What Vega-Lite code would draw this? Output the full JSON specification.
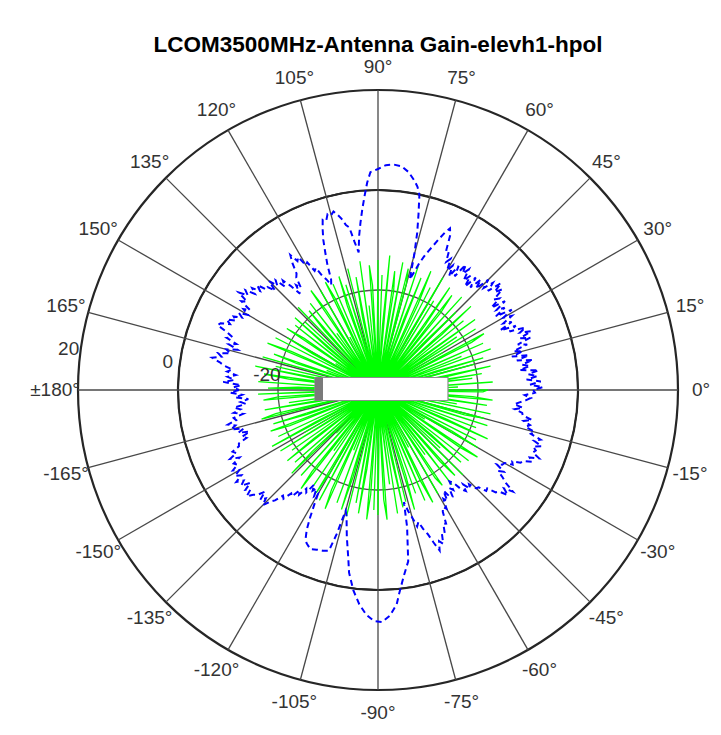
{
  "$schema": "https://vega.github.io/schema/vega-lite/v6.json",
  "width": 600,
  "height": 600,
  "autosize": {"type": "none"},
  "padding": {"left": 78, "top": 90, "right": 43, "bottom": 45},
  "background": "white",
  "config": {"view": {"stroke": null}},
  "title": {"text": "LCOM3500MHz-Antenna Gain-elevh1-hpol", "font": "Liberation Sans", "fontSize": 22.5, "fontWeight": "bold", "color": "#000000", "anchor": "middle", "frame": "group", "offset": 2},
  "datasets": {
    "rings": [{"v": -20}, {"v": 0}],
    "outer": [{"v": 20}],
    "spokes": [{"a":0},{"a":15},{"a":30},{"a":45},{"a":60},{"a":75},{"a":90},{"a":105},{"a":120},{"a":135},{"a":150},{"a":165},{"a":180},{"a":195},{"a":210},{"a":225},{"a":240},{"a":255},{"a":270},{"a":285},{"a":300},{"a":315},{"a":330},{"a":345}],
    "angleLabels": [{"a":0,"t":"0°"},{"a":15,"t":"15°"},{"a":30,"t":"30°"},{"a":45,"t":"45°"},{"a":60,"t":"60°"},{"a":75,"t":"75°"},{"a":90,"t":"90°"},{"a":105,"t":"105°"},{"a":120,"t":"120°"},{"a":135,"t":"135°"},{"a":150,"t":"150°"},{"a":165,"t":"165°"},{"a":180,"t":"±180°"},{"a":-165,"t":"-165°"},{"a":-150,"t":"-150°"},{"a":-135,"t":"-135°"},{"a":-120,"t":"-120°"},{"a":-105,"t":"-105°"},{"a":-90,"t":"-90°"},{"a":-75,"t":"-75°"},{"a":-60,"t":"-60°"},{"a":-45,"t":"-45°"},{"a":-30,"t":"-30°"},{"a":-15,"t":"-15°"}],
    "radialLabels": [{"v":20,"t":"20"},{"v":0,"t":"0"},{"v":-20,"t":"-20"}],
    "box": [{"x1": -12.6, "x2": 14.0, "y1": -2.1, "y2": 2.5}],
    "boxEdge": [{"x1": -12.6, "x2": -11.0, "y1": -2.1, "y2": 2.5}],
    "green": [
      {"a":0,"g":-18},{"a":1,"g":-40},{"a":2,"g":-24},{"a":3,"g":-36},{"a":4,"g":-17},{"a":5,"g":-40},{"a":6,"g":-40},{"a":7,"g":-21},{"a":8,"g":-30},{"a":9,"g":-19},
      {"a":10,"g":-40},{"a":11,"g":-26},{"a":12,"g":-17},{"a":13,"g":-40},{"a":14,"g":-33},{"a":15,"g":-20},{"a":16,"g":-40},{"a":17,"g":-18},{"a":18,"g":-28},{"a":19,"g":-40},
      {"a":20,"g":-16},{"a":21,"g":-38},{"a":22,"g":-22},{"a":23,"g":-40},{"a":24,"g":-17},{"a":25,"g":-31},{"a":26,"g":-40},{"a":27,"g":-19},{"a":28,"g":-16},{"a":29,"g":-40},
      {"a":30,"g":-25},{"a":31,"g":-40},{"a":32,"g":-17},{"a":33,"g":-35},{"a":34,"g":-21},{"a":35,"g":-40},{"a":36,"g":-16},{"a":37,"g":-29},{"a":38,"g":-40},{"a":39,"g":-18},
      {"a":40,"g":-40},{"a":41,"g":-23},{"a":42,"g":-15},{"a":43,"g":-40},{"a":44,"g":-37},{"a":45,"g":-18},{"a":46,"g":-27},{"a":47,"g":-40},{"a":48,"g":-15},{"a":49,"g":-32},
      {"a":50,"g":-40},{"a":51,"g":-20},{"a":52,"g":-16},{"a":53,"g":-40},{"a":54,"g":-24},{"a":55,"g":-15},{"a":56,"g":-40},{"a":57,"g":-34},{"a":58,"g":-19},{"a":59,"g":-40},
      {"a":60,"g":-14},{"a":61,"g":-28},{"a":62,"g":-40},{"a":63,"g":-17},{"a":64,"g":-40},{"a":65,"g":-21},{"a":66,"g":-14},{"a":67,"g":-36},{"a":68,"g":-40},{"a":69,"g":-16},
      {"a":70,"g":-25},{"a":71,"g":-40},{"a":72,"g":-14},{"a":73,"g":-33},{"a":74,"g":-40},{"a":75,"g":-18},{"a":76,"g":-15},{"a":77,"g":-40},{"a":78,"g":-29},{"a":79,"g":-14},
      {"a":80,"g":-40},{"a":81,"g":-20},{"a":82,"g":-16},{"a":83,"g":-40},{"a":84,"g":-38},{"a":85,"g":-13},{"a":86,"g":-27},{"a":87,"g":-40},{"a":88,"g":-17},{"a":89,"g":-40},
      {"a":90,"g":-14},{"a":91,"g":-31},{"a":92,"g":-40},{"a":93,"g":-19},{"a":94,"g":-15},{"a":95,"g":-40},{"a":96,"g":-23},{"a":97,"g":-40},{"a":98,"g":-14},{"a":99,"g":-35},
      {"a":100,"g":-40},{"a":101,"g":-17},{"a":102,"g":-25},{"a":103,"g":-40},{"a":104,"g":-15},{"a":105,"g":-40},{"a":106,"g":-30},{"a":107,"g":-18},{"a":108,"g":-40},{"a":109,"g":-16},
      {"a":110,"g":-22},{"a":111,"g":-40},{"a":112,"g":-37},{"a":113,"g":-17},{"a":114,"g":-40},{"a":115,"g":-20},{"a":116,"g":-16},{"a":117,"g":-40},{"a":118,"g":-28},{"a":119,"g":-40},
      {"a":120,"g":-17},{"a":121,"g":-34},{"a":122,"g":-40},{"a":123,"g":-21},{"a":124,"g":-16},{"a":125,"g":-40},{"a":126,"g":-26},{"a":127,"g":-40},{"a":128,"g":-18},{"a":129,"g":-32},
      {"a":130,"g":-40},{"a":131,"g":-19},{"a":132,"g":-24},{"a":133,"g":-40},{"a":134,"g":-17},{"a":135,"g":-40},{"a":136,"g":-36},{"a":137,"g":-20},{"a":138,"g":-40},{"a":139,"g":-18},
      {"a":140,"g":-27},{"a":141,"g":-40},{"a":142,"g":-19},{"a":143,"g":-33},{"a":144,"g":-40},{"a":145,"g":-22},{"a":146,"g":-18},{"a":147,"g":-40},{"a":148,"g":-30},{"a":149,"g":-40},
      {"a":150,"g":-19},{"a":151,"g":-25},{"a":152,"g":-40},{"a":153,"g":-17},{"a":154,"g":-38},{"a":155,"g":-40},{"a":156,"g":-21},{"a":157,"g":-16},{"a":158,"g":-40},{"a":159,"g":-29},
      {"a":160,"g":-40},{"a":161,"g":-18},{"a":162,"g":-23},{"a":163,"g":-40},{"a":164,"g":-16},{"a":165,"g":-34},{"a":166,"g":-40},{"a":167,"g":-19},{"a":168,"g":-40},{"a":169,"g":-15},
      {"a":170,"g":-27},{"a":171,"g":-40},{"a":172,"g":-17},{"a":173,"g":-22},{"a":174,"g":-40},{"a":175,"g":-39},{"a":176,"g":-16},{"a":177,"g":-40},{"a":178,"g":-24},{"a":179,"g":-18},
      {"a":180,"g":-40},{"a":181,"g":-31},{"a":182,"g":-16},{"a":183,"g":-40},{"a":184,"g":-20},{"a":185,"g":-17},{"a":186,"g":-40},{"a":187,"g":-36},{"a":188,"g":-22},{"a":189,"g":-40},
      {"a":190,"g":-17},{"a":191,"g":-28},{"a":192,"g":-40},{"a":193,"g":-19},{"a":194,"g":-16},{"a":195,"g":-40},{"a":196,"g":-33},{"a":197,"g":-40},{"a":198,"g":-18},{"a":199,"g":-25},
      {"a":200,"g":-40},{"a":201,"g":-17},{"a":202,"g":-21},{"a":203,"g":-40},{"a":204,"g":-37},{"a":205,"g":-18},{"a":206,"g":-40},{"a":207,"g":-26},{"a":208,"g":-16},{"a":209,"g":-40},
      {"a":210,"g":-23},{"a":211,"g":-40},{"a":212,"g":-17},{"a":213,"g":-30},{"a":214,"g":-40},{"a":215,"g":-19},{"a":216,"g":-40},{"a":217,"g":-24},{"a":218,"g":-17},{"a":219,"g":-40},
      {"a":220,"g":-35},{"a":221,"g":-18},{"a":222,"g":-40},{"a":223,"g":-22},{"a":224,"g":-16},{"a":225,"g":-40},{"a":226,"g":-28},{"a":227,"g":-40},{"a":228,"g":-17},{"a":229,"g":-33},
      {"a":230,"g":-40},{"a":231,"g":-19},{"a":232,"g":-15},{"a":233,"g":-40},{"a":234,"g":-25},{"a":235,"g":-40},{"a":236,"g":-17},{"a":237,"g":-38},{"a":238,"g":-40},{"a":239,"g":-16},
      {"a":240,"g":-21},{"a":241,"g":-40},{"a":242,"g":-15},{"a":243,"g":-32},{"a":244,"g":-40},{"a":245,"g":-18},{"a":246,"g":-14},{"a":247,"g":-40},{"a":248,"g":-27},{"a":249,"g":-40},
      {"a":250,"g":-16},{"a":251,"g":-36},{"a":252,"g":-40},{"a":253,"g":-15},{"a":254,"g":-22},{"a":255,"g":-40},{"a":256,"g":-14},{"a":257,"g":-40},{"a":258,"g":-30},{"a":259,"g":-17},
      {"a":260,"g":-40},{"a":261,"g":-15},{"a":262,"g":-24},{"a":263,"g":-40},{"a":264,"g":-38},{"a":265,"g":-14},{"a":266,"g":-19},{"a":267,"g":-40},{"a":268,"g":-16},{"a":269,"g":-40},
      {"a":270,"g":-15},{"a":271,"g":-29},{"a":272,"g":-40},{"a":273,"g":-18},{"a":274,"g":-14},{"a":275,"g":-40},{"a":276,"g":-33},{"a":277,"g":-21},{"a":278,"g":-40},{"a":279,"g":-15},
      {"a":280,"g":-40},{"a":281,"g":-26},{"a":282,"g":-16},{"a":283,"g":-40},{"a":284,"g":-17},{"a":285,"g":-40},{"a":286,"g":-35},{"a":287,"g":-15},{"a":288,"g":-22},{"a":289,"g":-40},
      {"a":290,"g":-18},{"a":291,"g":-40},{"a":292,"g":-31},{"a":293,"g":-16},{"a":294,"g":-40},{"a":295,"g":-20},{"a":296,"g":-15},{"a":297,"g":-40},{"a":298,"g":-27},{"a":299,"g":-40},
      {"a":300,"g":-16},{"a":301,"g":-37},{"a":302,"g":-40},{"a":303,"g":-19},{"a":304,"g":-17},{"a":305,"g":-40},{"a":306,"g":-24},{"a":307,"g":-40},{"a":308,"g":-16},{"a":309,"g":-30},
      {"a":310,"g":-40},{"a":311,"g":-21},{"a":312,"g":-17},{"a":313,"g":-40},{"a":314,"g":-34},{"a":315,"g":-16},{"a":316,"g":-40},{"a":317,"g":-23},{"a":318,"g":-40},{"a":319,"g":-18},
      {"a":320,"g":-26},{"a":321,"g":-40},{"a":322,"g":-17},{"a":323,"g":-39},{"a":324,"g":-40},{"a":325,"g":-20},{"a":326,"g":-16},{"a":327,"g":-40},{"a":328,"g":-29},{"a":329,"g":-40},
      {"a":330,"g":-17},{"a":331,"g":-23},{"a":332,"g":-40},{"a":333,"g":-18},{"a":334,"g":-36},{"a":335,"g":-40},{"a":336,"g":-16},{"a":337,"g":-25},{"a":338,"g":-40},{"a":339,"g":-19},
      {"a":340,"g":-40},{"a":341,"g":-31},{"a":342,"g":-17},{"a":343,"g":-40},{"a":344,"g":-22},{"a":345,"g":-18},{"a":346,"g":-40},{"a":347,"g":-38},{"a":348,"g":-17},{"a":349,"g":-40},
      {"a":350,"g":-24},{"a":351,"g":-40},{"a":352,"g":-18},{"a":353,"g":-28},{"a":354,"g":-40},{"a":355,"g":-17},{"a":356,"g":-21},{"a":357,"g":-40},{"a":358,"g":-33},{"a":359,"g":-19},
      {"a":360,"g":-18}
    ],
    "blue": [
      {"a":-180,"g":-12.2},{"a":-179,"g":-10.4},{"a":-178,"g":-12.8},{"a":-177,"g":-11.4},{"a":-176,"g":-14.0},{"a":-175,"g":-12.4},{"a":-174,"g":-13.4},{"a":-173,"g":-11.0},{"a":-172,"g":-12.2},{"a":-171,"g":-10.8},
      {"a":-170,"g":-12.6},{"a":-169,"g":-10.6},{"a":-168,"g":-11.0},{"a":-167,"g":-9.2},{"a":-166,"g":-10.6},{"a":-165,"g":-9.6},{"a":-164,"g":-12.0},{"a":-163,"g":-10.8},{"a":-162,"g":-13.0},{"a":-161,"g":-11.2},
      {"a":-160,"g":-12.0},{"a":-159,"g":-10.2},{"a":-158,"g":-10.0},{"a":-157,"g":-8.4},{"a":-156,"g":-9.0},{"a":-155,"g":-7.4},{"a":-154,"g":-9.2},{"a":-153,"g":-7.6},{"a":-152,"g":-8.2},{"a":-151,"g":-6.8},
      {"a":-150,"g":-8.0},{"a":-149,"g":-6.6},{"a":-148,"g":-7.8},{"a":-147,"g":-6.2},{"a":-146,"g":-7.6},{"a":-145,"g":-6.6},{"a":-144,"g":-8.4},{"a":-143,"g":-6.8},{"a":-142,"g":-7.6},{"a":-141,"g":-6.2},
      {"a":-140,"g":-7.4},{"a":-139,"g":-8.0},{"a":-138,"g":-9.6},{"a":-137,"g":-7.8},{"a":-136,"g":-8.8},{"a":-135,"g":-7.4},{"a":-134,"g":-9.0},{"a":-133,"g":-9.8},{"a":-132,"g":-11.6},{"a":-131,"g":-11.2},
      {"a":-130,"g":-13.0},{"a":-129,"g":-12.6},{"a":-128,"g":-14.6},{"a":-127,"g":-13.8},{"a":-126,"g":-15.6},{"a":-125,"g":-15.0},{"a":-124,"g":-17.2},{"a":-123,"g":-16.0},{"a":-122,"g":-16.8},{"a":-121,"g":-15.2},
      {"a":-120,"g":-16.0},{"a":-119,"g":-13.6},{"a":-118,"g":-11.0},{"a":-117,"g":-8.6},{"a":-116,"g":-7.0},{"a":-115,"g":-6.2},{"a":-113,"g":-5.4},{"a":-111,"g":-5.8},{"a":-109,"g":-6.0},{"a":-107,"g":-6.4},
      {"a":-106,"g":-10.0},{"a":-105,"g":-15.0},{"a":-104,"g":-14.0},{"a":-102,"g":-10.0},{"a":-100,"g":-5.8},{"a":-99,"g":-3.0},{"a":-97,"g":0.4},{"a":-95,"g":3.0},{"a":-93,"g":5.0},{"a":-91,"g":6.2},
      {"a":-89,"g":6.4},{"a":-87,"g":5.2},{"a":-85,"g":3.0},{"a":-84,"g":0.8},{"a":-82,"g":-2.6},{"a":-80,"g":-5.2},{"a":-79,"g":-9.0},{"a":-78,"g":-12.0},{"a":-77,"g":-17.0},{"a":-76,"g":-15.0},
      {"a":-75,"g":-13.6},{"a":-74,"g":-11.6},{"a":-73,"g":-12.4},{"a":-72,"g":-10.8},{"a":-71,"g":-9.6},{"a":-70,"g":-7.6},{"a":-69,"g":-5.6},{"a":-68,"g":-7.4},{"a":-67,"g":-6.6},{"a":-66,"g":-8.6},
      {"a":-65,"g":-8.4},{"a":-64,"g":-10.2},{"a":-63,"g":-10.0},{"a":-62,"g":-12.4},{"a":-61,"g":-13.2},{"a":-60,"g":-12.6},{"a":-59,"g":-14.6},{"a":-58,"g":-13.8},{"a":-57,"g":-16.0},{"a":-56,"g":-14.2},
      {"a":-55,"g":-14.0},{"a":-54,"g":-15.8},{"a":-53,"g":-15.0},{"a":-52,"g":-16.8},{"a":-51,"g":-16.2},{"a":-50,"g":-14.0},{"a":-49,"g":-13.2},{"a":-48,"g":-14.6},{"a":-47,"g":-13.0},{"a":-46,"g":-13.8},
      {"a":-45,"g":-12.2},{"a":-44,"g":-12.0},{"a":-43,"g":-10.4},{"a":-42,"g":-10.6},{"a":-41,"g":-8.8},{"a":-40,"g":-8.4},{"a":-39,"g":-6.6},{"a":-38,"g":-8.0},{"a":-37,"g":-6.2},{"a":-36,"g":-8.4},
      {"a":-35,"g":-9.6},{"a":-34,"g":-11.0},{"a":-33,"g":-10.0},{"a":-32,"g":-12.0},{"a":-31,"g":-11.0},{"a":-30,"g":-10.8},{"a":-29,"g":-9.2},{"a":-28,"g":-9.6},{"a":-27,"g":-8.0},{"a":-26,"g":-7.6},
      {"a":-25,"g":-6.0},{"a":-24,"g":-6.8},{"a":-23,"g":-5.0},{"a":-22,"g":-6.6},{"a":-21,"g":-6.2},{"a":-20,"g":-7.0},{"a":-19,"g":-5.4},{"a":-18,"g":-7.2},{"a":-17,"g":-6.0},{"a":-16,"g":-8.2},
      {"a":-15,"g":-7.6},{"a":-14,"g":-9.6},{"a":-13,"g":-8.8},{"a":-12,"g":-10.2},{"a":-11,"g":-8.6},{"a":-10,"g":-10.6},{"a":-9,"g":-10.8},{"a":-8,"g":-12.4},{"a":-7,"g":-10.8},{"a":-6,"g":-12.6},
      {"a":-5,"g":-11.6},{"a":-4,"g":-10.4},{"a":-3,"g":-9.4},{"a":-2,"g":-10.6},{"a":-1,"g":-8.6},
      {"a":0,"g":-9.0},{"a":1,"g":-7.0},{"a":2,"g":-9.6},{"a":3,"g":-7.4},{"a":4,"g":-10.2},{"a":5,"g":-8.0},{"a":6,"g":-9.8},{"a":7,"g":-7.6},{"a":8,"g":-11.4},{"a":9,"g":-9.2},
      {"a":10,"g":-10.8},{"a":11,"g":-8.4},{"a":12,"g":-11.6},{"a":13,"g":-9.0},{"a":14,"g":-12.4},{"a":15,"g":-10.0},{"a":16,"g":-11.8},{"a":17,"g":-8.8},{"a":18,"g":-10.6},{"a":19,"g":-7.8},
      {"a":20,"g":-9.8},{"a":21,"g":-7.2},{"a":22,"g":-9.4},{"a":23,"g":-8.0},{"a":24,"g":-11.2},{"a":25,"g":-9.6},{"a":26,"g":-12.8},{"a":27,"g":-10.0},{"a":28,"g":-11.6},{"a":29,"g":-9.4},
      {"a":30,"g":-11.0},{"a":31,"g":-8.8},{"a":32,"g":-12.2},{"a":33,"g":-9.8},{"a":34,"g":-11.4},{"a":35,"g":-9.0},{"a":36,"g":-12.0},{"a":37,"g":-9.6},{"a":38,"g":-10.6},{"a":39,"g":-8.0},
      {"a":40,"g":-9.6},{"a":41,"g":-7.4},{"a":42,"g":-10.4},{"a":43,"g":-8.6},{"a":44,"g":-10.6},{"a":45,"g":-8.8},{"a":46,"g":-11.8},{"a":47,"g":-9.8},{"a":48,"g":-12.4},{"a":49,"g":-10.2},
      {"a":50,"g":-13.0},{"a":51,"g":-10.6},{"a":52,"g":-12.2},{"a":53,"g":-9.8},{"a":54,"g":-11.2},{"a":55,"g":-9.4},{"a":56,"g":-12.6},{"a":57,"g":-10.4},{"a":58,"g":-13.2},{"a":59,"g":-11.0},
      {"a":60,"g":-12.4},{"a":61,"g":-10.0},{"a":62,"g":-11.0},{"a":63,"g":-8.6},{"a":64,"g":-8.8},{"a":65,"g":-5.8},{"a":66,"g":-4.6},{"a":67,"g":-5.8},{"a":68,"g":-7.4},{"a":69,"g":-9.0},
      {"a":70,"g":-10.4},{"a":71,"g":-11.8},{"a":72,"g":-13.4},{"a":73,"g":-15.4},{"a":74,"g":-17.0},{"a":75,"g":-12.0},{"a":76,"g":-7.6},{"a":77,"g":-4.0},{"a":78,"g":-0.2},{"a":79,"g":1.4},
      {"a":80,"g":2.4},{"a":82,"g":4.0},{"a":84,"g":5.0},{"a":86,"g":5.2},{"a":88,"g":5.0},{"a":90,"g":4.2},{"a":92,"g":3.6},{"a":93,"g":1.5},{"a":94,"g":-1.2},{"a":95,"g":-3.8},
      {"a":96,"g":-6.4},{"a":97,"g":-9.0},{"a":98,"g":-12.2},{"a":99,"g":-10.0},{"a":100,"g":-7.0},{"a":101,"g":-6.4},{"a":102,"g":-5.0},{"a":103,"g":-4.0},{"a":104,"g":-3.2},{"a":105,"g":-3.8},
      {"a":106,"g":-3.4},{"a":107,"g":-4.6},{"a":108,"g":-4.2},{"a":109,"g":-6.0},{"a":110,"g":-8.0},{"a":111,"g":-10.6},{"a":112,"g":-13.0},{"a":113,"g":-16.0},{"a":114,"g":-17.0},{"a":115,"g":-15.6},
      {"a":116,"g":-14.6},{"a":117,"g":-12.6},{"a":118,"g":-13.0},{"a":119,"g":-10.8},{"a":120,"g":-11.2},{"a":121,"g":-9.0},{"a":122,"g":-9.6},{"a":123,"g":-7.8},{"a":124,"g":-9.4},{"a":125,"g":-11.6},
      {"a":126,"g":-12.2},{"a":127,"g":-14.4},{"a":128,"g":-13.4},{"a":129,"g":-15.2},{"a":130,"g":-12.8},{"a":131,"g":-11.0},{"a":132,"g":-12.2},{"a":133,"g":-10.0},{"a":134,"g":-11.0},{"a":135,"g":-9.2},
      {"a":136,"g":-11.4},{"a":137,"g":-9.8},{"a":138,"g":-10.0},{"a":139,"g":-8.0},{"a":140,"g":-9.2},{"a":141,"g":-7.6},{"a":142,"g":-8.8},{"a":143,"g":-6.8},{"a":144,"g":-7.8},{"a":145,"g":-6.0},
      {"a":146,"g":-8.4},{"a":147,"g":-7.4},{"a":148,"g":-9.8},{"a":149,"g":-8.6},{"a":150,"g":-10.0},{"a":151,"g":-8.2},{"a":152,"g":-9.2},{"a":153,"g":-7.6},{"a":154,"g":-8.4},{"a":155,"g":-6.6},
      {"a":156,"g":-7.6},{"a":157,"g":-5.8},{"a":158,"g":-5.4},{"a":159,"g":-7.6},{"a":160,"g":-9.0},{"a":161,"g":-8.0},{"a":162,"g":-10.2},{"a":163,"g":-8.8},{"a":164,"g":-10.8},{"a":165,"g":-8.6},
      {"a":166,"g":-9.6},{"a":167,"g":-7.2},{"a":168,"g":-8.0},{"a":169,"g":-6.2},{"a":170,"g":-7.8},{"a":171,"g":-8.8},{"a":172,"g":-10.6},{"a":173,"g":-9.6},{"a":174,"g":-11.4},{"a":175,"g":-9.8},
      {"a":176,"g":-11.2},{"a":177,"g":-9.0},{"a":178,"g":-12.6},{"a":179,"g":-11.0},{"a":180,"g":-12.2}
    ]
  },
  "layer": [
    {
      "data": {"name": "rings"},
      "mark": {"type": "arc", "theta": 0, "theta2": 6.3, "fill": "white", "fillOpacity": 0, "stroke": "#505050", "strokeWidth": 1.3},
      "encoding": {"radius": {"field": "v", "type": "quantitative", "scale": {"type": "linear", "domain": [-40, 20], "range": [0, 300], "zero": false, "nice": false}, "legend": null}}
    },
    {
      "data": {"name": "outer"},
      "mark": {"type": "arc", "theta": 0, "theta2": 6.3, "fill": "white", "fillOpacity": 0, "stroke": "#262626", "strokeWidth": 2.2},
      "encoding": {"radius": {"field": "v", "type": "quantitative", "scale": {"type": "linear", "domain": [-40, 20], "range": [0, 300], "zero": false, "nice": false}, "legend": null}}
    },
    {
      "data": {"name": "spokes"},
      "transform": [
        {"calculate": "60*cos(datum.a*PI/180)", "as": "x"},
        {"calculate": "60*sin(datum.a*PI/180)", "as": "y"}
      ],
      "mark": {"type": "rule", "stroke": "#484848", "strokeWidth": 1.3},
      "encoding": {
        "x": {"field": "x", "type": "quantitative", "scale": {"domain": [-60, 60], "nice": false, "zero": false}, "axis": null},
        "y": {"field": "y", "type": "quantitative", "scale": {"domain": [-60, 60], "nice": false, "zero": false}, "axis": null},
        "x2": {"datum": 0},
        "y2": {"datum": 0}
      }
    },
    {
      "data": {"name": "green"},
      "transform": [
        {"calculate": "max(0, datum.g + 40)", "as": "r"},
        {"calculate": "datum.r*cos(datum.a*PI/180)", "as": "x"},
        {"calculate": "datum.r*sin(datum.a*PI/180)", "as": "y"}
      ],
      "mark": {"type": "line", "stroke": "#00ff00", "strokeWidth": 1.3},
      "encoding": {
        "x": {"field": "x", "type": "quantitative", "scale": {"domain": [-60, 60], "nice": false, "zero": false}, "axis": null},
        "y": {"field": "y", "type": "quantitative", "scale": {"domain": [-60, 60], "nice": false, "zero": false}, "axis": null},
        "order": {"field": "a", "type": "quantitative"}
      }
    },
    {
      "data": {"name": "blue"},
      "transform": [
        {"calculate": "max(0, datum.g + 40)", "as": "r"},
        {"calculate": "datum.r*cos(datum.a*PI/180)", "as": "x"},
        {"calculate": "datum.r*sin(datum.a*PI/180)", "as": "y"}
      ],
      "mark": {"type": "line", "stroke": "#0000ff", "strokeWidth": 2, "strokeDash": [6, 4]},
      "encoding": {
        "x": {"field": "x", "type": "quantitative", "scale": {"domain": [-60, 60], "nice": false, "zero": false}, "axis": null},
        "y": {"field": "y", "type": "quantitative", "scale": {"domain": [-60, 60], "nice": false, "zero": false}, "axis": null},
        "order": {"field": "a", "type": "quantitative"}
      }
    },
    {
      "data": {"name": "box"},
      "mark": {"type": "rect", "fill": "white", "stroke": "#8c8c8c", "strokeWidth": 1.2},
      "encoding": {
        "x": {"field": "x1", "type": "quantitative", "scale": {"domain": [-60, 60], "nice": false, "zero": false}, "axis": null},
        "x2": {"field": "x2"},
        "y": {"field": "y1", "type": "quantitative", "scale": {"domain": [-60, 60], "nice": false, "zero": false}, "axis": null},
        "y2": {"field": "y2"}
      }
    },
    {
      "data": {"name": "boxEdge"},
      "mark": {"type": "rect", "fill": "#7a7a7a"},
      "encoding": {
        "x": {"field": "x1", "type": "quantitative", "scale": {"domain": [-60, 60], "nice": false, "zero": false}, "axis": null},
        "x2": {"field": "x2"},
        "y": {"field": "y1", "type": "quantitative", "scale": {"domain": [-60, 60], "nice": false, "zero": false}, "axis": null},
        "y2": {"field": "y2"}
      }
    },
    {
      "data": {"name": "angleLabels"},
      "transform": [
        {"calculate": "64.6*cos(datum.a*PI/180)", "as": "x"},
        {"calculate": "64.6*sin(datum.a*PI/180)", "as": "y"}
      ],
      "mark": {"type": "text", "font": "Liberation Sans", "fontSize": 19, "color": "#333333", "align": "center", "baseline": "middle"},
      "encoding": {
        "x": {"field": "x", "type": "quantitative", "scale": {"domain": [-60, 60], "nice": false, "zero": false}, "axis": null},
        "y": {"field": "y", "type": "quantitative", "scale": {"domain": [-60, 60], "nice": false, "zero": false}, "axis": null},
        "text": {"field": "t"}
      }
    },
    {
      "data": {"name": "radialLabels"},
      "transform": [
        {"calculate": "(datum.v + 42.4)*cos(172.5*PI/180)", "as": "x"},
        {"calculate": "(datum.v + 42.4)*sin(172.5*PI/180)", "as": "y"}
      ],
      "mark": {"type": "text", "font": "Liberation Sans", "fontSize": 19, "color": "#333333", "align": "center", "baseline": "middle"},
      "encoding": {
        "x": {"field": "x", "type": "quantitative", "scale": {"domain": [-60, 60], "nice": false, "zero": false}, "axis": null},
        "y": {"field": "y", "type": "quantitative", "scale": {"domain": [-60, 60], "nice": false, "zero": false}, "axis": null},
        "text": {"field": "t"}
      }
    }
  ]
}
